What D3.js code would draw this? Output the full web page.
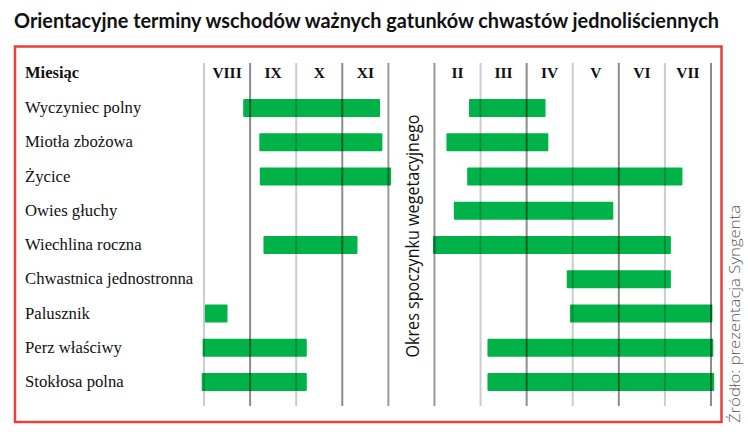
<!DOCTYPE html>
<html>
<head>
<meta charset="utf-8">
<script src="https://cdn.jsdelivr.net/npm/d3@7"></script>
<style>
  body { margin: 0; background: #fff; }
  svg { display: block; }
</style>
</head>
<body>
<div class="container"></div>
<script>
// data
var title = 'Orientacyjne terminy wschodów ważnych gatunków chwastów jednoliściennych';
var months = ['VIII', 'IX', 'X', 'XI', '', 'II', 'III', 'IV', 'V', 'VI', 'VII'];
var weeds = ['Wyczyniec polny', 'Miotła zbożowa', 'Życice', 'Owies głuchy', 'Wiechlina roczna',
  'Chwastnica jednostronna', 'Palusznik', 'Perz właściwy', 'Stokłosa polna'];
// positions in month columns (0 = start of VIII)
var autumnStart = [0.85, 1.20, 1.21, null, 1.29, null, 0.02, -0.03, -0.05];
var autumnEnd   = [3.82, 3.87, 4.06, null, 3.33, null, 0.51, 2.23, 2.23];
var springStart = [5.75, 5.26, 5.71, 5.42, 4.97, 7.87, 7.94, 6.15, 6.15];
var springEnd   = [7.41, 7.47, 10.38, 8.88, 10.13, 10.13, 11.03, 11.05, 11.07];
var restLabel = 'Okres spoczynku wegetacyjnego';
var source = 'Źródło: prezentacja Syngenta';

var w = 748, h = 434;
var barH = 18;

var svg = d3.select('.container')
  .append('svg')
  .attr('width', w)
  .attr('height', h);

var xScale = d3.scaleLinear()
  .domain([0, months.length])
  .range([204, 711]);

var yScale = d3.scalePoint()
  .domain(weeds)
  .range([108, 382]);

/* title */
svg.append('text')
  .attr('x', 14).attr('y', 28)
  .attr('font-family', 'Lato, sans-serif')
  .attr('font-weight', 700)
  .attr('font-size', '20px')
  .attr('fill', '#111')
  .attr('textLength', 705)
  .attr('lengthAdjust', 'spacingAndGlyphs')
  .text(title);

/* frame */
svg.append('rect')
  .attr('x', 15).attr('y', 46.5)
  .attr('width', 706.5).attr('height', 375.5)
  .attr('fill', 'none')
  .attr('stroke', '#e8413c')
  .attr('stroke-width', 2.5);

/* header */
svg.append('text')
  .attr('x', 25).attr('y', 78)
  .attr('font-family', '"Liberation Serif", serif')
  .attr('font-weight', 700)
  .attr('font-size', '16.5px')
  .attr('fill', '#111')
  .text('Miesiąc');

svg.selectAll('.month')
  .data(months)
  .enter()
  .append('text')
  .attr('class', 'month')
  .attr('x', function(d, i) { return xScale(i + 0.5); })
  .attr('y', 78)
  .attr('text-anchor', 'middle')
  .attr('font-family', '"Liberation Serif", serif')
  .attr('font-weight', 700)
  .attr('font-size', '15.5px')
  .attr('fill', '#111')
  .text(function(d) { return d; });

/* row labels */
svg.selectAll('.label')
  .data(weeds)
  .enter()
  .append('text')
  .attr('class', 'label')
  .attr('x', 25)
  .attr('y', function(d) { return yScale(d) + 5; })
  .attr('font-family', '"Liberation Serif", serif')
  .attr('font-size', '16.7px')
  .attr('fill', '#111')
  .text(function(d) { return d; });

/* bars */
var rows = weeds.map(function(d, i) {
  return { name: d, a0: autumnStart[i], a1: autumnEnd[i], s0: springStart[i], s1: springEnd[i] };
});
var segs = [];
rows.forEach(function(r) {
  if (r.a0 !== null) segs.push({ name: r.name, x0: r.a0, x1: r.a1 });
  if (r.s0 !== null) segs.push({ name: r.name, x0: r.s0, x1: r.s1 });
});

svg.selectAll('.bar')
  .data(segs)
  .enter()
  .append('rect')
  .attr('class', 'bar')
  .attr('x', function(d) { return xScale(d.x0); })
  .attr('width', function(d) { return xScale(d.x1) - xScale(d.x0); })
  .attr('y', function(d) { return yScale(d.name) - barH / 2; })
  .attr('height', barH)
  .attr('rx', 1)
  .attr('fill', '#00b247');

/* grid lines, drawn over the bars */
var ticks = d3.range(months.length + 1);
svg.selectAll('.grid')
  .data(ticks)
  .enter()
  .append('line')
  .attr('class', 'grid')
  .attr('x1', function(d) { return xScale(d); })
  .attr('x2', function(d) { return xScale(d); })
  .attr('y1', 63)
  .attr('y2', 406)
  .attr('stroke', '#000')
  .attr('stroke-width', 2)
  .attr('stroke-opacity', function(d) {
    if (d === 4 || d === 5) return 0.4;
    return d % 2 === 1 ? 0.45 : 0.2;
  });

/* rest period label */
var restX = (xScale(4) + xScale(5)) / 2;
svg.append('text')
  .attr('transform', 'translate(' + (restX + 8) + ',236) rotate(-90)')
  .attr('text-anchor', 'middle')
  .attr('font-family', '"Open Sans", sans-serif')
  .attr('font-size', '18px')
  .attr('fill', '#111')
  .attr('textLength', 243)
  .attr('lengthAdjust', 'spacingAndGlyphs')
  .text(restLabel);

/* source */
svg.append('text')
  .attr('transform', 'translate(740,314) rotate(-90)')
  .attr('text-anchor', 'middle')
  .attr('font-family', '"Open Sans", sans-serif')
  .attr('font-weight', 300)
  .attr('font-size', '15px')
  .attr('fill', '#555')
  .attr('textLength', 218)
  .attr('lengthAdjust', 'spacingAndGlyphs')
  .text(source);
</script>
</body>
</html>
